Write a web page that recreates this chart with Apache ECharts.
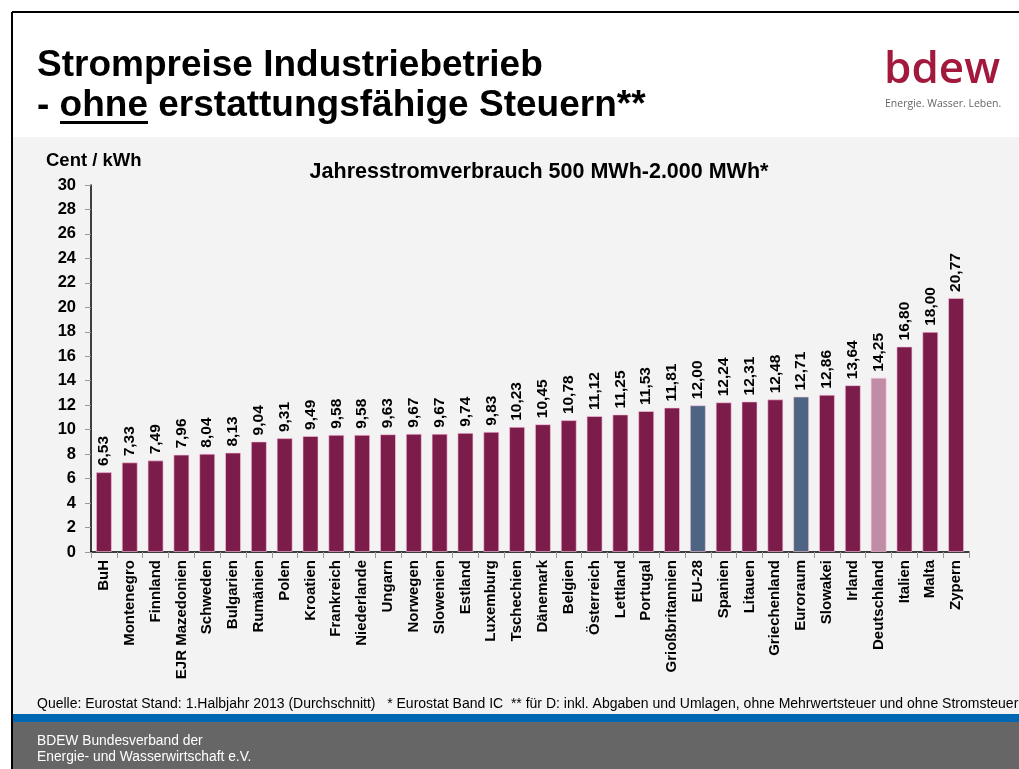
<!DOCTYPE html>
<html><head><meta charset="utf-8">
<script src="https://cdn.jsdelivr.net/npm/echarts@6/dist/echarts.min.js"></script>
<style>html,body{margin:0;padding:0;background:#fff}#c{width:1019px;height:769px}</style>
</head><body><div id="c"></div>
<script>
const categories = ['BuH','Montenegro','Finnland','EJR Mazedonien','Schweden','Bulgarien','Rumänien','Polen','Kroatien','Frankreich','Niederlande','Ungarn','Norwegen','Slowenien','Estland','Luxemburg','Tschechien','Dänemark','Belgien','Österreich','Lettland','Portugal','Grioßbritannien','EU-28','Spanien','Litauen','Griechenland','Euroraum','Slowakei','Irland','Deutschland','Italien','Malta','Zypern'];
const values = [6.53,7.33,7.49,7.96,8.04,8.13,9.04,9.31,9.49,9.58,9.58,9.63,9.67,9.67,9.74,9.83,10.23,10.45,10.78,11.12,11.25,11.53,11.81,12.00,12.24,12.31,12.48,12.71,12.86,13.64,14.25,16.80,18.00,20.77];
const averageCategories = ['EU-28','Euroraum'];
const germanyCategories = ['Deutschland'];
const yTicks = [0,2,4,6,8,10,12,14,16,18,20,22,24,26,28,30];

const C_MAIN = '#7B1C4A', C_AVG = '#4D6482', C_DE = '#C08CA6';
const FONT = '"Liberation Sans", Arial, sans-serif';

const chart = echarts.init(document.getElementById('c'));
const barData = categories.map((c, i) => {
  let col = C_MAIN;
  if (averageCategories.includes(c)) col = C_AVG;
  if (germanyCategories.includes(c)) col = C_DE;
  return { value: values[i], itemStyle: { color: col } };
});

function txt(x, y, text, font, fill, align) {
  return { type: 'text', x: x, y: y, style: { text: text, font: font, fill: fill, align: align || 'left', verticalAlign: 'middle' } };
}

chart.setOption({
  animation: false,
  backgroundColor: '#ffffff',
  textStyle: { fontFamily: FONT },
  graphic: [
    { type: 'rect', z: -10, shape: { x: 12, y: 137, width: 1007, height: 578 }, style: { fill: '#F3F3F3' } },
    { type: 'rect', z: -10, shape: { x: 12, y: 714, width: 1007, height: 8 }, style: { fill: '#0068B2' } },
    { type: 'rect', z: -10, shape: { x: 12, y: 722, width: 1007, height: 47 }, style: { fill: '#666666' } },
    { type: 'line', z: 10, shape: { x1: 12, y1: 12, x2: 1019, y2: 12 }, style: { stroke: '#000', lineWidth: 2 } },
    { type: 'line', z: 10, shape: { x1: 12, y1: 12, x2: 12, y2: 769 }, style: { stroke: '#000', lineWidth: 2 } },
    txt(37, 66, 'Strompreise Industriebetrieb', 'bold 37px ' + FONT, '#000'),
    txt(37, 106, '- ohne erstattungsfähige Steuern**', 'bold 37px ' + FONT, '#000'),
    { type: 'rect', shape: { x: 60, y: 121, width: 88, height: 3 }, style: { fill: '#000' } },
    txt(884, 70, 'bdew', '600 44px "Open Sans", sans-serif', '#A3193D'),
    txt(885, 104, 'Energie. Wasser. Leben.', '10.5px "Open Sans", sans-serif', '#666'),
    txt(46, 161, 'Cent / kWh', 'bold 18.5px ' + FONT, '#000'),
    txt(539, 172, 'Jahresstromverbrauch 500 MWh-2.000 MWh*', 'bold 21.5px ' + FONT, '#000', 'center'),
    txt(37, 704, 'Quelle: Eurostat Stand: 1.Halbjahr 2013 (Durchschnitt)   * Eurostat Band IC  ** für D: inkl. Abgaben und Umlagen, ohne Mehrwertsteuer und ohne Stromsteuer', '14px ' + FONT, '#000'),
    txt(37, 741, 'BDEW Bundesverband der', '13.8px ' + FONT, '#fff'),
    txt(37, 757, 'Energie- und Wasserwirtschaft e.V.', '13.8px ' + FONT, '#fff')
  ],
  grid: { left: 91, right: 50, top: 185, bottom: 217, containLabel: false },
  xAxis: {
    type: 'category',
    data: categories,
    axisLine: { lineStyle: { color: '#000', width: 1.5 } },
    axisTick: { show: true, length: 6, lineStyle: { color: '#999' } },
    axisLabel: { rotate: 90, interval: 0, margin: 8, fontWeight: 'bold', fontSize: 15, color: '#000', fontFamily: FONT }
  },
  yAxis: {
    type: 'value', min: 0, max: 30, interval: 2,
    axisLine: { show: true, lineStyle: { color: '#000', width: 1.5 } },
    axisTick: { show: true, length: 6, lineStyle: { color: '#999' } },
    splitLine: { show: false },
    axisLabel: { fontWeight: 'bold', fontSize: 16.5, color: '#000', margin: 15, fontFamily: FONT,
      formatter: v => yTicks.includes(v) ? String(v) : '' }
  },
  series: [{
    type: 'bar',
    data: barData,
    barCategoryGap: '38%',
    itemStyle: { borderColor: 'rgba(255,200,225,0.6)', borderWidth: 1 },
    label: {
      show: true, position: 'top', rotate: 90, align: 'left', verticalAlign: 'middle', distance: 6,
      fontWeight: 'bold', fontSize: 15.5, color: '#000', fontFamily: FONT,
      formatter: p => p.value.toFixed(2).replace('.', ',')
    }
  }]
});
</script></body></html>
